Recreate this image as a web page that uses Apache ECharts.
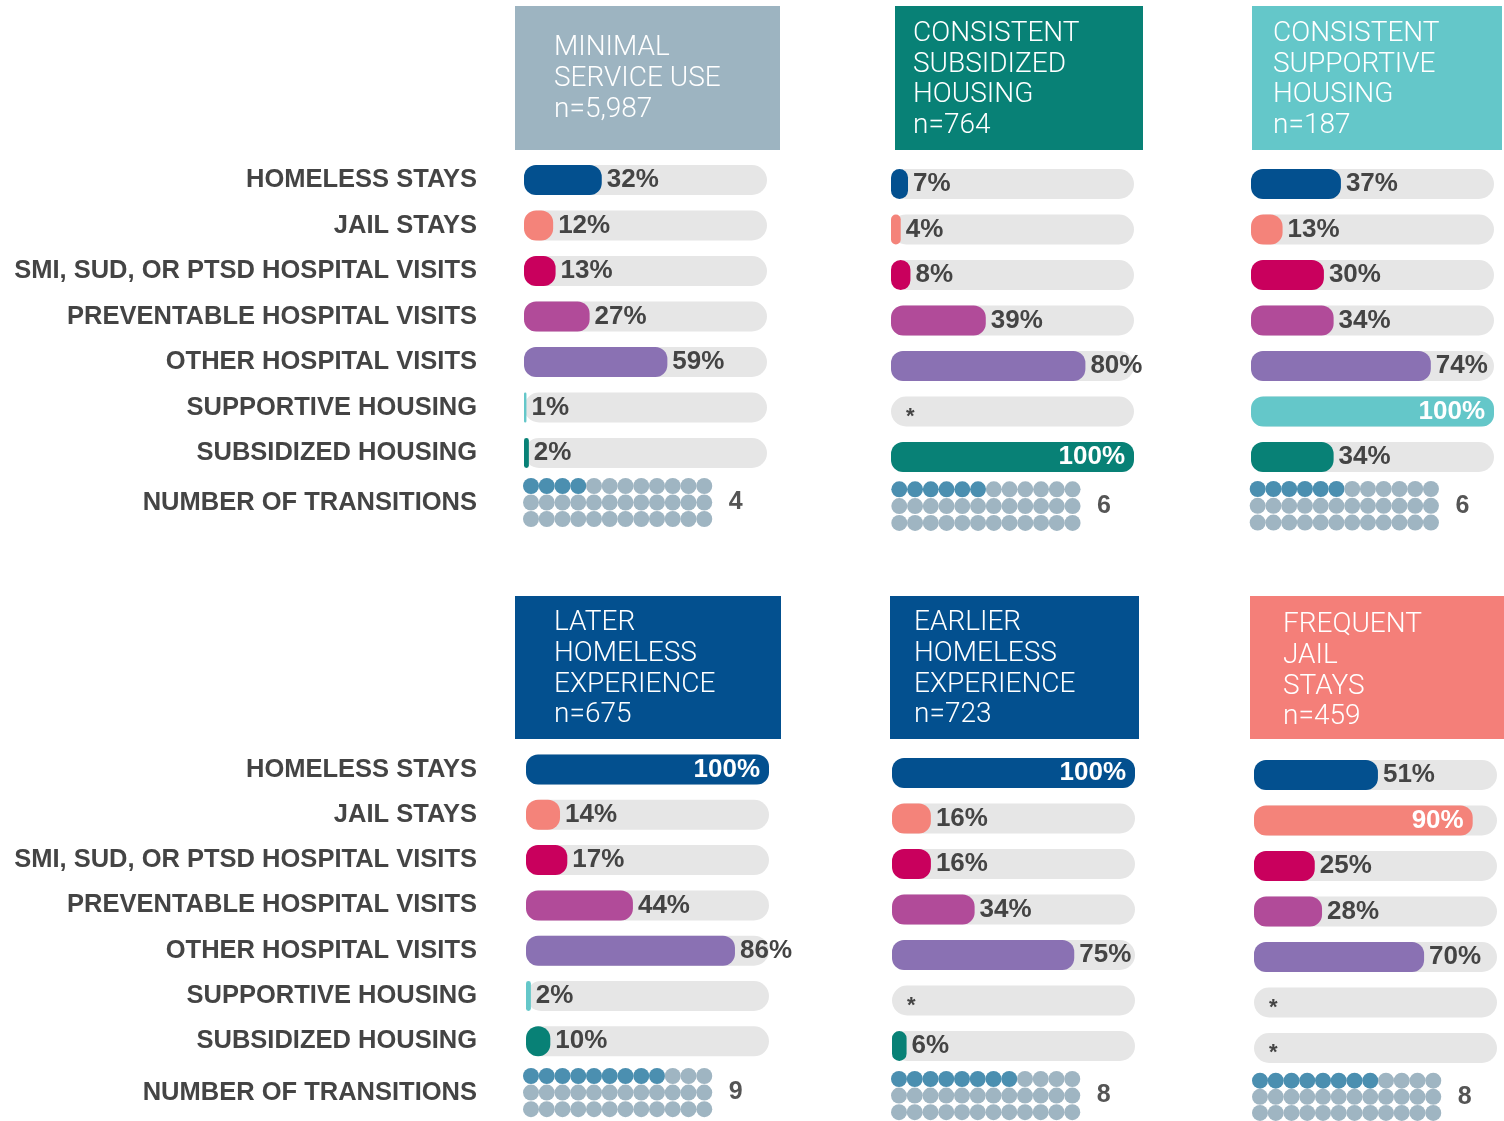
<!DOCTYPE html>
<html lang="en">
<head>
    <meta charset="UTF-8">
    <title>Service use profiles</title>
    <script src="https://cdn.jsdelivr.net/npm/echarts@6/dist/echarts.min.js"></script>
    <style>
        html, body { margin: 0; padding: 0; background: #fff; }
        #main { width: 1504px; height: 1121px; }
    </style>
</head>
<body>
    <div id="main"></div>
    <script>
        // ---- data ----
        var rowLabels = ['HOMELESS STAYS', 'JAIL STAYS', 'SMI, SUD, OR PTSD HOSPITAL VISITS',
            'PREVENTABLE HOSPITAL VISITS', 'OTHER HOSPITAL VISITS', 'SUPPORTIVE HOUSING', 'SUBSIDIZED HOUSING'];
        var transitionsLabel = 'NUMBER OF TRANSITIONS';
        var panelTitles = ['MINIMAL\nSERVICE USE', 'CONSISTENT\nSUBSIDIZED\nHOUSING', 'CONSISTENT\nSUPPORTIVE\nHOUSING',
            'LATER\nHOMELESS\nEXPERIENCE', 'EARLIER\nHOMELESS\nEXPERIENCE', 'FREQUENT\nJAIL\nSTAYS'];
        var panelN = ['n=5,987', 'n=764', 'n=187', 'n=675', 'n=723', 'n=459'];
        // null = suppressed (*)
        var minimalUse = [32, 12, 13, 27, 59, 1, 2];
        var consSubsidized = [7, 4, 8, 39, 80, null, 100];
        var consSupportive = [37, 13, 30, 34, 74, 100, 34];
        var laterHomeless = [100, 14, 17, 44, 86, 2, 10];
        var earlierHomeless = [100, 16, 16, 34, 75, null, 6];
        var frequentJail = [51, 90, 25, 28, 70, null, null];
        var transitions = [4, 6, 6, 9, 8, 8];
        var panelValues = [minimalUse, consSubsidized, consSupportive, laterHomeless, earlierHomeless, frequentJail];

        // ---- styles / layout ----
        var rowColors = ['#03508f', '#f4837a', '#c9005d', '#b14b99', '#8a71b3', '#64c7c9', '#088176'];
        var headerColors = ['#9db4c1', '#088176', '#64c7c9', '#03508f', '#03508f', '#f47f79'];
        var dotDark = '#4b8fb0', dotLight = '#9fb5c2';
        var colPitch = 15.75;
        // box: x,y,w,h | tx: text left | t1: first text line centre | bx,by,bp: bars left, first row centre, row pitch | dx,dy,dp: dots
        var layout = [
            { box: [515, 6, 265, 144], tx: 554, t1: 45, bx: 524, by: 180, bp: 45.5, dx: 531, dy: 486, dp: 16.5, labels: true },
            { box: [895, 6, 248, 144], tx: 913, t1: 30.7, bx: 891, by: 184, bp: 45.5, dx: 899.3, dy: 489.3, dp: 16.8 },
            { box: [1252, 6, 250, 144], tx: 1273, t1: 30.7, bx: 1251, by: 184, bp: 45.5, dx: 1257.7, dy: 489, dp: 16.8 },
            { box: [515, 596, 266, 143], tx: 554, t1: 620, bx: 526, by: 769.5, bp: 45.3, dx: 531, dy: 1076, dp: 16.6, labels: true },
            { box: [890, 596, 249, 143], tx: 914, t1: 620, bx: 892, by: 773, bp: 45.5, dx: 899, dy: 1079, dp: 16.6 },
            { box: [1250, 596, 254, 143], tx: 1283, t1: 622, bx: 1254, by: 775, bp: 45.5, dx: 1260, dy: 1081, dp: 16.8 }
        ];
        var labelFont = '"Liberation Sans", Arial, sans-serif';

        var grids = [], xAxes = [], yAxes = [], series = [], graphics = [];

        layout.forEach(function (L, p) {
            // bar grid
            grids.push({ left: L.bx, top: L.by - L.bp / 2, width: 243, height: L.bp * 7 });
            xAxes.push({ gridIndex: 2 * p, type: 'value', min: 0, max: 100, show: false });
            yAxes.push({
                gridIndex: 2 * p, type: 'category', inverse: true, data: rowLabels,
                axisLine: { show: false }, axisTick: { show: false }, splitLine: { show: false },
                axisLabel: {
                    show: !!L.labels, interval: 0, margin: L.bx - 477, fontFamily: labelFont, fontWeight: 'bold',
                    fontSize: 25.5, color: '#444', padding: [5, 0, 0, 0]
                }
            });
            // dot grid
            grids.push({ left: L.dx - colPitch / 2, top: L.dy - L.dp / 2, width: colPitch * 14, height: L.dp * 3 });
            xAxes.push({ gridIndex: 2 * p + 1, type: 'value', min: -0.5, max: 13.5, show: false });
            yAxes.push({
                gridIndex: 2 * p + 1, type: 'category', inverse: true, data: ['0', '1', '2'],
                axisLine: { show: false }, axisTick: { show: false }, splitLine: { show: false },
                axisLabel: {
                    show: !!L.labels, interval: 0, margin: L.dx - colPitch / 2 - 477, fontFamily: labelFont,
                    fontWeight: 'bold', fontSize: 25.5, color: '#444',
                    formatter: function (v, i) { return i === 1 ? transitionsLabel : ''; }
                }
            });

            var barData = panelValues[p].map(function (v, i) {
                if (v === null) {
                    return { value: 0, label: { formatter: '*', distance: 15, fontSize: 22, offset: [0, 5] } };
                }
                var item = { value: v, itemStyle: { color: rowColors[i] } };
                if (v >= 90) item.label = { position: 'insideRight', color: '#fff', distance: 9 };
                return item;
            });
            series.push({
                type: 'bar', xAxisIndex: 2 * p, yAxisIndex: 2 * p, barWidth: 30,
                showBackground: true,
                backgroundStyle: { color: '#e6e6e6', borderRadius: 15 },
                itemStyle: { borderRadius: 12 },
                label: {
                    show: true, position: 'right', distance: 5, formatter: '{c}%',
                    fontFamily: labelFont, fontWeight: 'bold', fontSize: 26, color: '#444'
                },
                data: barData
            });

            var dots = [];
            for (var r = 0; r < 3; r++) {
                for (var c = 0; c < 12; c++) {
                    dots.push({ value: [c, r], itemStyle: { color: (r === 0 && c < transitions[p]) ? dotDark : dotLight } });
                }
            }
            series.push({
                type: 'scatter', xAxisIndex: 2 * p + 1, yAxisIndex: 2 * p + 1,
                symbol: 'circle', symbolSize: 16, itemStyle: { opacity: 1 }, data: dots, silent: true
            });
            series.push({
                type: 'scatter', xAxisIndex: 2 * p + 1, yAxisIndex: 2 * p + 1,
                symbolSize: 1, itemStyle: { color: 'rgba(0,0,0,0)', opacity: 1 }, silent: true,
                label: {
                    show: true, position: 'inside', formatter: String(transitions[p]),
                    fontFamily: labelFont, fontWeight: 'bold', fontSize: 25, color: '#555'
                },
                data: [[13, 1]]
            });

            // header box
            graphics.push({
                type: 'rect', shape: { x: L.box[0], y: L.box[1], width: L.box[2], height: L.box[3] },
                style: { fill: headerColors[p] }
            });
            graphics.push({
                type: 'text', x: L.tx, y: L.t1 - 15.4 + 3,
                style: {
                    text: panelTitles[p] + '\n' + panelN[p], fill: '#fff',
                    font: '300 28px Roboto', lineHeight: 30.8, verticalAlign: 'top'
                }
            });
        });

        var myChart = echarts.init(document.getElementById('main'));
        myChart.setOption({
            animation: false,
            grid: grids,
            xAxis: xAxes,
            yAxis: yAxes,
            graphic: graphics,
            series: series
        });
    </script>
</body>
</html>
